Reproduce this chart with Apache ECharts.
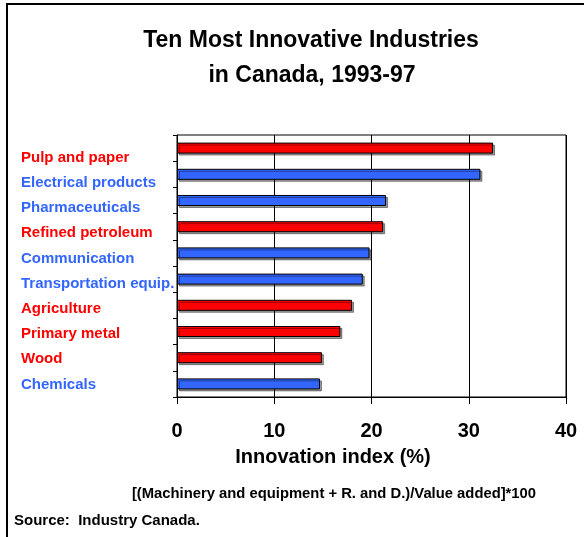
<!DOCTYPE html>
<html>
<head>
<meta charset="utf-8">
<script src="https://cdn.jsdelivr.net/npm/echarts@6/dist/echarts.min.js"></script>
<style>html,body{margin:0;padding:0;background:#fff}#c{width:584px;height:537px}</style>
</head>
<body>
<div id="c"></div>
<script>
var categories = ['Pulp and paper', 'Electrical products', 'Pharmaceuticals', 'Refined petroleum', 'Communication', 'Transportation equip.', 'Agriculture', 'Primary metal', 'Wood', 'Chemicals'];
var values = [32.5, 31.2, 21.5, 21.2, 19.8, 19.1, 18.0, 16.8, 14.9, 14.7];
var groups = ['red', 'blue', 'blue', 'red', 'blue', 'blue', 'red', 'red', 'red', 'blue'];
var xTicks = [0, 10, 20, 30, 40];
var titleLines = ['Ten Most Innovative Industries', 'in Canada, 1993-97'];
var axisTitle = 'Innovation index (%)';
var formulaNote = '[(Machinery and equipment + R. and D.)/Value added]*100';
var sourceNote = 'Source:  Industry Canada.';

var palette = { red: '#ff0000', blue: '#3366ff' };
var FF = 'Arial, "Liberation Sans", Helvetica, sans-serif';

var chart = echarts.init(document.getElementById('c'), null, { renderer: 'canvas' });
chart.setOption({
  animation: false,
  backgroundColor: '#fff',
  grid: [
    { left: 177, right: 18, top: 145, bottom: 140, show: false },
    { left: 177, right: 18, top: 135, bottom: 140, show: true, backgroundColor: 'rgba(0,0,0,0)', borderColor: '#000', borderWidth: 1 }
  ],
  xAxis: [{
    gridIndex: 0, type: 'value', show: false, min: 0, max: 40
  }, {
    gridIndex: 1, type: 'value', min: xTicks[0], max: xTicks[xTicks.length - 1], interval: 10,
    axisLine: { show: true, lineStyle: { color: '#000', width: 1 } },
    axisTick: { show: true, length: 7, lineStyle: { color: '#000' } },
    splitLine: { show: true, lineStyle: { color: '#000', width: 1, type: 'solid' } },
    axisLabel: { color: '#000', fontWeight: 'bold', fontSize: 20, fontFamily: FF, margin: 24 }
  }],
  yAxis: [{
    gridIndex: 0, type: 'category', data: categories, inverse: true,
    axisLine: { show: false }, axisTick: { show: false }, splitLine: { show: false },
    axisLabel: {
      show: true, align: 'left', margin: 156, fontWeight: 'bold', fontSize: 15, fontFamily: FF,
      color: function (v, i) { return palette[groups[i]]; }
    }
  }, {
    gridIndex: 1, type: 'category', data: categories, inverse: true,
    axisLine: { show: true, lineStyle: { color: '#000', width: 1 } },
    axisTick: { show: true, length: 4, lineStyle: { color: '#000' } },
    axisLabel: { show: false },
    splitLine: { show: false }
  }],
  series: [{
    type: 'bar', xAxisIndex: 1, yAxisIndex: 1, barWidth: 11, z: 5,
    data: values.map(function (v, i) {
      return {
        value: v,
        itemStyle: {
          color: palette[groups[i]], borderColor: '#000', borderWidth: 1,
          shadowColor: 'rgba(0,0,0,0.4)', shadowOffsetX: 2, shadowOffsetY: 2, shadowBlur: 0
        }
      };
    })
  }],
  graphic: [
    { type: 'line', silent: true, z: -10, shape: { x1: 6, y1: 4, x2: 584, y2: 4 }, style: { stroke: '#000', lineWidth: 2 } },
    { type: 'line', silent: true, z: -10, shape: { x1: 7, y1: 3, x2: 7, y2: 537 }, style: { stroke: '#000', lineWidth: 2 } },
    { type: 'text', silent: true, style: { text: titleLines[0], x: 311, y: 41, textAlign: 'center', textVerticalAlign: 'middle', font: 'bold 23px ' + FF, fill: '#000' } },
    { type: 'text', silent: true, style: { text: titleLines[1], x: 312, y: 76, textAlign: 'center', textVerticalAlign: 'middle', font: 'bold 23px ' + FF, fill: '#000' } },
    { type: 'text', silent: true, style: { text: axisTitle, x: 333, y: 457, textAlign: 'center', textVerticalAlign: 'middle', font: 'bold 20px ' + FF, fill: '#000' } },
    { type: 'text', silent: true, style: { text: formulaNote, x: 334, y: 494, textAlign: 'center', textVerticalAlign: 'middle', font: 'bold 14.8px ' + FF, fill: '#000' } },
    { type: 'text', silent: true, style: { text: sourceNote, x: 14, y: 521, textAlign: 'left', textVerticalAlign: 'middle', font: 'bold 15px ' + FF, fill: '#000' } }
  ]
});
</script>
</body>
</html>
